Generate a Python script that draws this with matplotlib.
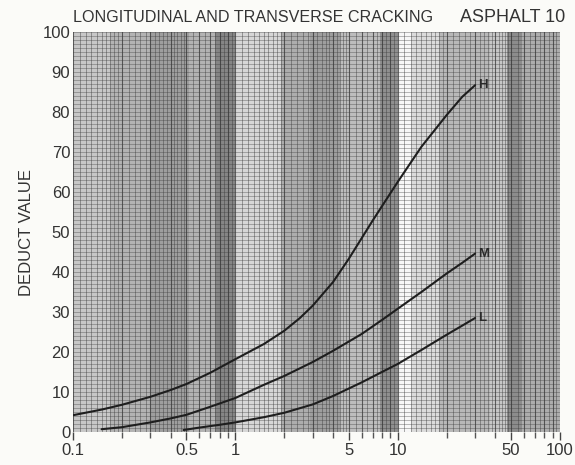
import numpy as np
import matplotlib
matplotlib.use("Agg")
import matplotlib.pyplot as plt
from matplotlib.ticker import FixedLocator, NullFormatter

plt.rcParams['font.family'] = ['Liberation Sans', 'DejaVu Sans']

# deduct value curves (density %, deduct value)
h_density = [0.1, 0.15, 0.2, 0.3, 0.4, 0.5, 0.7, 1, 1.5, 2, 2.5, 3, 4, 5,
             7, 10, 14, 17, 20, 25, 30]
h_deduct = [4.2, 5.6, 6.8, 8.8, 10.5, 12, 14.8, 18.2, 22, 25.3, 28.5, 31.6,
            37.5, 43.3, 52.8, 62.5, 71.3, 75.6, 79.2, 83.8, 86.7]

m_density = [0.15, 0.2, 0.3, 0.4, 0.5, 0.7, 1, 1.5, 2, 3, 4, 6, 8, 10, 14,
             20, 25, 30]
m_deduct = [0.7, 1.2, 2.4, 3.4, 4.3, 6.3, 8.5, 11.8, 14, 17.5, 20.3, 24.5,
            28, 30.8, 35, 39.6, 42.3, 44.6]

l_density = [0.48, 0.6, 0.8, 1, 1.5, 2, 3, 4, 6, 8, 10, 14, 20, 25, 30]
l_deduct = [0.5, 1.1, 1.8, 2.4, 3.7, 4.8, 6.9, 9.0, 12.4, 15, 17, 20.5, 24.3,
            26.6, 28.5]

x_ticks = [0.1, 0.5, 1, 5, 10, 50, 100]
x_ticklabels = ['0.1', '0.5', '1', '5', '10', '50', '100']
y_ticks = list(range(0, 101, 10))

# uneven grey shading of the printed paper, in vertical strips
strip_edges = [0.1, 0.17, 0.3, 0.52, 0.75, 1.0, 1.9, 2.9, 4.4, 7.8, 10, 12,
               18, 37, 47, 58, 100]
strip_grey = [0.78, 0.70, 0.62, 0.70, 0.52, 0.84, 0.68, 0.62, 0.74, 0.56,
              0.97, 0.86, 0.72, 0.78, 0.55, 0.68]

fig = plt.figure(figsize=(5.75, 4.65), dpi=100)
fig.patch.set_facecolor('#fbfbf8')
ax = fig.add_axes([73 / 575, 1 - 432 / 465, 487 / 575, 400 / 465])
ax.set_xscale('log')
ax.set_xlim(0.1, 100)
ax.set_ylim(0, 100)

for i, g in enumerate(strip_grey):
    ax.axvspan(strip_edges[i], strip_edges[i + 1], color=str(g), lw=0, zorder=0)

# semi-log graph paper grid
vlines = []
for d in [0.1, 1, 10]:
    vlines += list(d * np.arange(1.0, 2.0, 0.1))
    vlines += list(d * np.arange(2.0, 5.0, 0.2))
    vlines += list(d * np.arange(5.0, 10.0, 0.5))
for v in vlines:
    ax.axvline(v, color='#3a3a3a', lw=0.6, alpha=0.5, zorder=1)
for v in [0.1 * k for k in range(1, 10)] + list(range(1, 10)) + [10 * k for k in range(1, 10)]:
    ax.axvline(v, color='#2a2a2a', lw=0.8, alpha=0.5, zorder=1)
for yv in range(0, 101, 1):
    ax.axhline(yv, color='#3a3a3a', lw=0.55, alpha=0.45, zorder=1)

for xs, ys, lab in [(h_density, h_deduct, 'H'),
                    (m_density, m_deduct, 'M'),
                    (l_density, l_deduct, 'L')]:
    ax.plot(xs, ys, color='#1e1e1e', lw=1.5, zorder=3, solid_capstyle='round',
            solid_joinstyle='round')
    ax.text(xs[-1] * 1.05, ys[-1], lab, fontsize=9.5, fontweight='bold',
            color='#2a2a2a', va='center', ha='left', zorder=4)

ax.xaxis.set_major_locator(FixedLocator(x_ticks))
ax.set_xticklabels(x_ticklabels)
minor = [0.1 * k for k in range(2, 10)] + list(range(2, 10)) + [10 * k for k in range(2, 10)]
ax.xaxis.set_minor_locator(FixedLocator(minor))
ax.xaxis.set_minor_formatter(NullFormatter())
ax.set_yticks(y_ticks)
ax.tick_params(axis='x', which='major', direction='out', length=6, width=1,
               color='#444444', labelsize=12, labelcolor='#333333', pad=2)
ax.tick_params(axis='x', which='minor', direction='out', length=4, width=1,
               color='#555555')
ax.tick_params(axis='y', length=0, labelsize=12, labelcolor='#333333', pad=2)
for s in ax.spines.values():
    s.set_visible(False)

ax.set_ylabel('DEDUCT VALUE', fontsize=12, color='#333333', labelpad=6)
fig.text(73 / 575, 1 - 18 / 465, 'LONGITUDINAL AND TRANSVERSE CRACKING',
         fontsize=11.6, color='#333333', ha='left', va='center')
fig.text(565 / 575, 1 - 18 / 465, 'ASPHALT 10', fontsize=13, color='#333333',
         ha='right', va='center')

fig.savefig('out.png', dpi=100, facecolor=fig.get_facecolor())
